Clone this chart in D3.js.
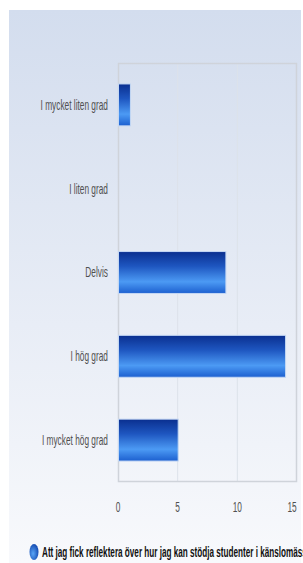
<!DOCTYPE html>
<html>
<head>
<meta charset="utf-8">
<script src="https://cdn.jsdelivr.net/npm/d3@7"></script>
<style>
  html, body { margin: 0; padding: 0; background: #ffffff; overflow: hidden; }
  svg { display: block; }
  text { font-family: 'Liberation Sans', Arial, sans-serif; }
</style>
</head>
<body>
<div id="chart"></div>
<script>
const categories = ['I mycket liten grad', 'I liten grad', 'Delvis', 'I hög grad', 'I mycket hög grad'];
const values = [1, 0, 9, 14, 5];
const xTicks = [0, 5, 10, 15];
const seriesName = 'Att jag fick reflektera över hur jag kan stödja studenter i känslomässiga frågor';

const W = 303, H = 563;
const plot = { left: 118, top: 63, right: 297, bottom: 482 };
const squeeze = 0.595; // narrow font look
const legendSqueeze = 0.583;

const svg = d3.select('#chart').append('svg')
  .attr('width', W)
  .attr('height', H);

const defs = svg.append('defs');

const bg = defs.append('linearGradient')
  .attr('id', 'bg').attr('x1', 0).attr('y1', 0).attr('x2', 0).attr('y2', 1);
bg.append('stop').attr('offset', '0%').attr('stop-color', '#d3ddee');
bg.append('stop').attr('offset', '100%').attr('stop-color', '#f8f9fc');

const barGrad = defs.append('linearGradient')
  .attr('id', 'bar').attr('x1', 0).attr('y1', 0).attr('x2', 0).attr('y2', 1);
barGrad.append('stop').attr('offset', '0%').attr('stop-color', '#0a2f8f');
barGrad.append('stop').attr('offset', '35%').attr('stop-color', '#1e56c0');
barGrad.append('stop').attr('offset', '72%').attr('stop-color', '#4c9af4');
barGrad.append('stop').attr('offset', '100%').attr('stop-color', '#1c5fcf');

const dot = defs.append('radialGradient')
  .attr('id', 'dot').attr('cx', '40%').attr('cy', '60%').attr('r', '70%');
dot.append('stop').attr('offset', '0%').attr('stop-color', '#5aa6f7');
dot.append('stop').attr('offset', '100%').attr('stop-color', '#0b3fa8');

// panel background
svg.append('rect')
  .attr('x', 9).attr('y', 10)
  .attr('width', 292).attr('height', H - 10)
  .attr('fill', 'url(#bg)');

const x = d3.scaleLinear().domain([0, 15]).range([plot.left, plot.right]);
const y = d3.scaleBand().domain(categories).range([plot.top, plot.bottom]).paddingInner(0.5).paddingOuter(0.25);

// grid lines
svg.append('g')
  .selectAll('line')
  .data(xTicks.slice(1, -1))
  .join('line')
  .attr('x1', d => x(d)).attr('x2', d => x(d))
  .attr('y1', plot.top).attr('y2', plot.bottom)
  .attr('stroke', '#dde2ea').attr('stroke-width', 1);

// plot frame
svg.append('rect')
  .attr('x', plot.left + 0.5).attr('y', plot.top + 0.5)
  .attr('width', plot.right - plot.left - 1).attr('height', plot.bottom - plot.top - 1)
  .attr('fill', 'none').attr('stroke', '#cfd3da').attr('stroke-width', 1.5);

// bars
svg.append('g')
  .selectAll('rect')
  .data(categories.map((c, i) => ({ c, v: values[i] })).filter(d => d.v > 0))
  .join('rect')
  .attr('x', x(0) + 0.5)
  .attr('y', d => y(d.c))
  .attr('width', d => x(d.v) - x(0))
  .attr('height', y.bandwidth())
  .attr('fill', 'url(#bar)')
  .attr('stroke', '#c4d8f4').attr('stroke-width', 1);

// category labels
svg.append('g')
  .selectAll('text')
  .data(categories)
  .join('text')
  .attr('transform', d => 'translate(108,' + (y(d) + y.bandwidth() / 2) + ') scale(' + squeeze + ',1)')
  .attr('dy', '0.35em')
  .attr('text-anchor', 'end')
  .attr('font-size', 14)
  .attr('fill', '#505050')
  .text(d => d);

// x tick labels
svg.append('g')
  .selectAll('text')
  .data(xTicks)
  .join('text')
  .attr('transform', (d, i) => 'translate(' + (x(d) - (i === xTicks.length - 1 ? 5 : 0)) + ',512) scale(' + squeeze + ',1)')
  .attr('text-anchor', 'middle')
  .attr('font-size', 14)
  .attr('fill', '#505050')
  .text(d => d);

// legend
svg.append('ellipse')
  .attr('cx', 34).attr('cy', 552)
  .attr('rx', 4.5).attr('ry', 8)
  .attr('fill', 'url(#dot)');

svg.append('text')
  .attr('transform', 'translate(42,557) scale(' + legendSqueeze + ',1)')
  .attr('font-size', 14)
  .attr('font-weight', 'bold')
  .attr('fill', '#111')
  .text(seriesName);
</script>
</body>
</html>
